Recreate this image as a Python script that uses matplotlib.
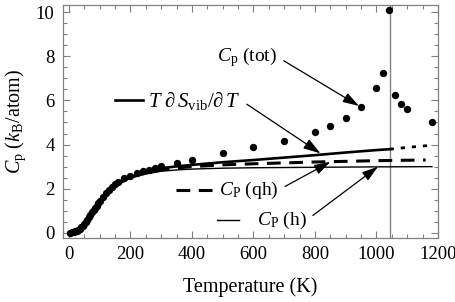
import numpy as np
import matplotlib
matplotlib.use('Agg')
import matplotlib.pyplot as plt
from matplotlib.ticker import MultipleLocator

plt.rcParams['font.family'] = ['Liberation Serif', 'DejaVu Serif']
plt.rcParams['mathtext.fontset'] = 'custom'
plt.rcParams['mathtext.rm'] = 'Liberation Serif'
plt.rcParams['mathtext.it'] = 'Liberation Serif:italic'
plt.rcParams['mathtext.bf'] = 'Liberation Serif:bold'

# measured total heat capacity (dots)
T_tot = [5, 10, 15, 20, 25, 30, 35, 40, 45, 50, 55, 60, 65, 70, 75, 80, 85, 90, 95,
         100, 110, 120, 130, 140, 150, 160, 180, 200, 220, 240, 260, 280, 300,
         350, 400, 500, 600, 700, 800, 850, 900, 950, 1000, 1020, 1040,
         1060, 1080, 1100, 1180]
Cp_tot = [0.01, 0.02, 0.04, 0.07, 0.10, 0.14, 0.19, 0.26, 0.33, 0.41, 0.50, 0.60,
          0.71, 0.82, 0.93, 1.04, 1.14, 1.24, 1.35,
          1.45, 1.63, 1.80, 1.96, 2.10, 2.22, 2.32, 2.47, 2.59, 2.70, 2.79, 2.87,
          2.95, 3.04, 3.18, 3.30, 3.60, 3.87, 4.18, 4.57, 4.86, 5.20, 5.72, 6.58,
          7.25, 10.1, 6.23, 5.85, 5.61, 5.01]

# harmonic
T_h = [0, 10, 20, 30, 40, 50, 60, 70, 80, 90, 100, 120, 140, 160, 180, 200, 225,
       250, 300, 350, 400, 500, 600, 700, 800, 900, 1000, 1100, 1180]
Cp_h = [0, 0.01, 0.05, 0.13, 0.25, 0.42, 0.62, 0.84, 1.05, 1.26, 1.45, 1.78, 2.03,
        2.22, 2.37, 2.48, 2.59, 2.67, 2.79, 2.85, 2.89, 2.93, 2.95, 2.96, 2.97,
        2.98, 2.99, 2.995, 3.0]

# quasiharmonic
T_qh = [0, 10, 20, 30, 40, 50, 60, 70, 80, 90, 100, 120, 140, 160, 180, 200, 225,
        250, 300, 350, 400, 500, 600, 700, 800, 900, 1000, 1100, 1160]
Cp_qh = [0, 0.01, 0.05, 0.13, 0.25, 0.42, 0.62, 0.84, 1.05, 1.26, 1.45, 1.78, 2.03,
         2.22, 2.37, 2.50, 2.62, 2.71, 2.86, 2.94, 3.00, 3.08, 3.13, 3.17, 3.21,
         3.24, 3.27, 3.29, 3.30]

# T dS_vib/dT, solid below Tc, dotted above
T_s = [0, 10, 20, 30, 40, 50, 60, 70, 80, 90, 100, 120, 140, 160, 180, 200, 225,
       250, 300, 350, 400, 500, 600, 700, 800, 900, 1000, 1043]
Cp_s = [0, 0.01, 0.05, 0.13, 0.25, 0.42, 0.62, 0.84, 1.05, 1.26, 1.45, 1.78, 2.03,
        2.23, 2.39, 2.52, 2.65, 2.75, 2.93, 3.01, 3.08, 3.20, 3.30, 3.41, 3.52,
        3.64, 3.75, 3.79]
T_s2 = [1043, 1100, 1180]
Cp_s2 = [3.79, 3.87, 3.97]

T_c = 1043
fs = 14.5

fig = plt.figure(figsize=(4.56, 3.02), dpi=100)
ax = fig.add_axes([0.138, 0.212, 0.8225, 0.7715])

ax.axvline(T_c, color='#808080', lw=1.0)
ax.plot(T_h, Cp_h, color='k', lw=1.0)
ax.plot(T_qh, Cp_qh, color='k', lw=2.2, dashes=(4.5, 2.8))
ax.plot(T_s, Cp_s, color='k', lw=1.9)
ax.plot(T_s2, Cp_s2, color='k', lw=2.0, dashes=(1.5, 2.5))
ax.plot(T_tot, Cp_tot, 'o', color='k', ms=5.3, mec='none', clip_on=False)

ax.set_xlim(-19.5, 1200)
ax.set_ylim(-0.23, 10.32)
ax.xaxis.set_major_locator(MultipleLocator(200))
ax.xaxis.set_minor_locator(MultipleLocator(50))
ax.yaxis.set_major_locator(MultipleLocator(2))
ax.yaxis.set_minor_locator(MultipleLocator(0.5))
ax.tick_params(which='both', direction='in', top=True, right=True,
               color='#808080', labelsize=13.5, width=0.8)
ax.tick_params(which='major', length=5, pad=6)
ax.tick_params(which='minor', length=3)
for s in ax.spines.values():
    s.set_color('#808080')
    s.set_linewidth(0.9)

ax.set_xlabel('Temperature (K)', fontsize=fs, labelpad=10)
ax.set_ylabel(r'$C_\mathrm{p}$ ($k_\mathrm{B}$/atom)', fontsize=fs, labelpad=6)

arrow = dict(arrowstyle='-|>,head_length=0.7,head_width=0.22', color='k',
             lw=0.9, shrinkA=3, shrinkB=0, relpos=(1, 0.5))

ax.annotate(r'$C_\mathrm{p}$ (tot)', xy=(943, 5.75), xytext=(0.412, 0.777),
            textcoords='axes fraction', ha='left', va='center', fontsize=14,
            arrowprops=arrow)
ax.annotate(r'$T\ \partial\, S_\mathrm{vib}/\partial\, T$', xy=(818, 3.60),
            xytext=(0.227, 0.592), textcoords='axes fraction', ha='left',
            va='center', fontsize=15, arrowprops=arrow)
ax.annotate(r'$C_\mathrm{P}$ (qh)', xy=(850, 3.22), xytext=(0.416, 0.206),
            textcoords='axes fraction', ha='left', va='center', fontsize=14,
            arrowprops=arrow)
ax.annotate(r'$C_\mathrm{P}$ (h)', xy=(1005, 3.0), xytext=(0.517, 0.077),
            textcoords='axes fraction', ha='left', va='center', fontsize=14,
            arrowprops=arrow)

# key segments in front of the labels
ax.plot([0.139, 0.213], [0.592, 0.592], color='k', lw=1.9, transform=ax.transAxes)
ax.plot([0.301, 0.397], [0.206, 0.206], color='k', lw=2.2, dashes=(4.5, 2.8),
        transform=ax.transAxes)
ax.plot([0.411, 0.469], [0.077, 0.077], color='k', lw=1.0, transform=ax.transAxes)

fig.savefig('out.png', dpi=100)
